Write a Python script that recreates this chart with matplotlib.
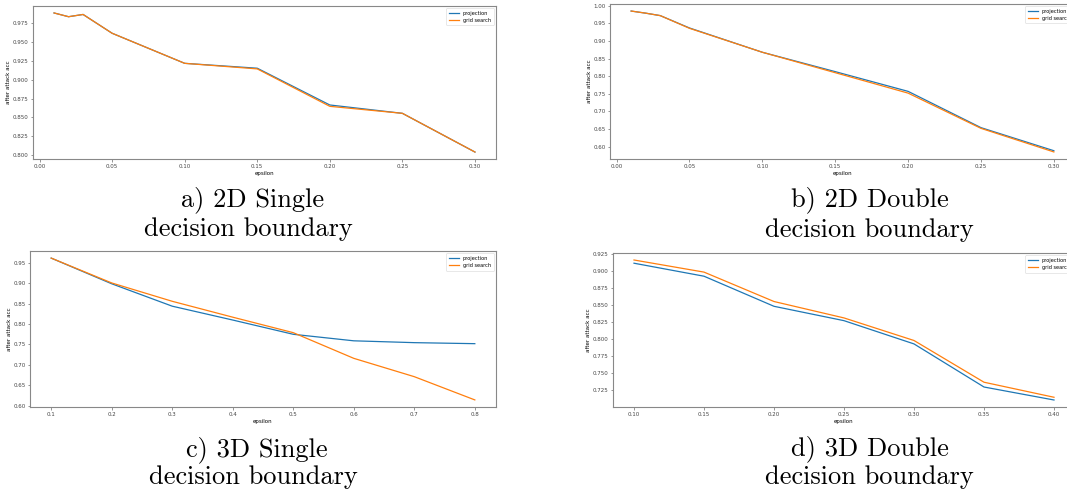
import matplotlib
matplotlib.use("Agg")
import matplotlib.pyplot as plt
from matplotlib.ticker import MultipleLocator, FormatStrFormatter

# a) 2D single decision boundary
eps_a = [0.01, 0.02, 0.03, 0.05, 0.10, 0.15, 0.20, 0.25, 0.30]
proj_a = [0.989, 0.984, 0.987, 0.962, 0.922, 0.9155, 0.8666, 0.8555, 0.804]
grid_a = [0.989, 0.984, 0.987, 0.962, 0.922, 0.9146, 0.8648, 0.8555, 0.804]

# b) 2D double decision boundary
eps_b = [0.01, 0.02, 0.03, 0.05, 0.10, 0.15, 0.20, 0.25, 0.30]
proj_b = [0.985, 0.979, 0.972, 0.937, 0.868, 0.813, 0.757, 0.654, 0.5885]
grid_b = [0.985, 0.979, 0.972, 0.936, 0.868, 0.810, 0.752, 0.652, 0.585]

# c) 3D single decision boundary
eps_c = [0.1, 0.2, 0.3, 0.4, 0.5, 0.6, 0.7, 0.8]
proj_c = [0.962, 0.899, 0.844, 0.810, 0.775, 0.759, 0.7545, 0.752]
grid_c = [0.962, 0.901, 0.856, 0.817, 0.779, 0.716, 0.671, 0.614]

# d) 3D double decision boundary
eps_d = [0.10, 0.15, 0.20, 0.25, 0.30, 0.35, 0.40]
proj_d = [0.911, 0.892, 0.848, 0.827, 0.793, 0.730, 0.711]
grid_d = [0.9157, 0.898, 0.855, 0.831, 0.798, 0.737, 0.715]

captions = [("a) 2D Single", "decision boundary"),
            ("b) 2D Double", "decision boundary"),
            ("c) 3D Single", "decision boundary"),
            ("d) 3D Double", "decision boundary")]

# y tick step / decimals per panel
ystep = [0.025, 0.05, 0.05, 0.025]
yfmt = ["%.3f", "%.2f", "%.2f", "%.3f"]

W, H = 1067, 490
fig = plt.figure(figsize=(W / 100, H / 100), dpi=100)

# pixel boxes: left, right, top, bottom
boxes = [(33, 496, 6, 159), (610, 1075, 4, 159),
         (30, 496, 251, 407), (613, 1075, 253, 407)]
data = [(eps_a, proj_a, grid_a), (eps_b, proj_b, grid_b),
        (eps_c, proj_c, grid_c), (eps_d, proj_d, grid_d)]
cap_x = [(253, 248), (870, 869), (257, 253), (870, 869)]
cap_y = [(206, 236), (206, 237), (456, 484), (455, 484)]

for i, ((l, r, t, b), (x, p, g)) in enumerate(zip(boxes, data)):
    ax = fig.add_axes([l / W, 1 - b / H, (r - l) / W, (b - t) / H])
    ax.plot(x, p, color="#1f77b4", lw=0.9, label="projection")
    ax.plot(x, g, color="#ff7f0e", lw=0.9, label="grid search")
    ax.yaxis.set_major_locator(MultipleLocator(ystep[i]))
    ax.yaxis.set_major_formatter(FormatStrFormatter(yfmt[i]))
    ax.set_xlabel("epsilon", fontsize=4, labelpad=1.5)
    ax.set_ylabel("after attack acc", fontsize=4, labelpad=1)
    ax.tick_params(labelsize=4, length=1.8, width=0.4, pad=1.5, colors="#444444")
    for s in ax.spines.values():
        s.set_linewidth(0.8)
        s.set_color("#888888")
    leg = ax.legend(loc="upper right", fontsize=3.6, handlelength=2.0,
                    borderpad=0.5, labelspacing=0.4)
    leg.get_frame().set_linewidth(0.4)
    # caption lines under each panel
    cap = captions[i]
    fig.text(cap_x[i][0] / W, 1 - cap_y[i][0] / H, cap[0], family="cmr10",
             fontsize=19, ha="center", va="baseline")
    fig.text(cap_x[i][1] / W, 1 - cap_y[i][1] / H, cap[1], family="cmr10",
             fontsize=19, ha="center", va="baseline")

fig.savefig("out.png", dpi=100)
